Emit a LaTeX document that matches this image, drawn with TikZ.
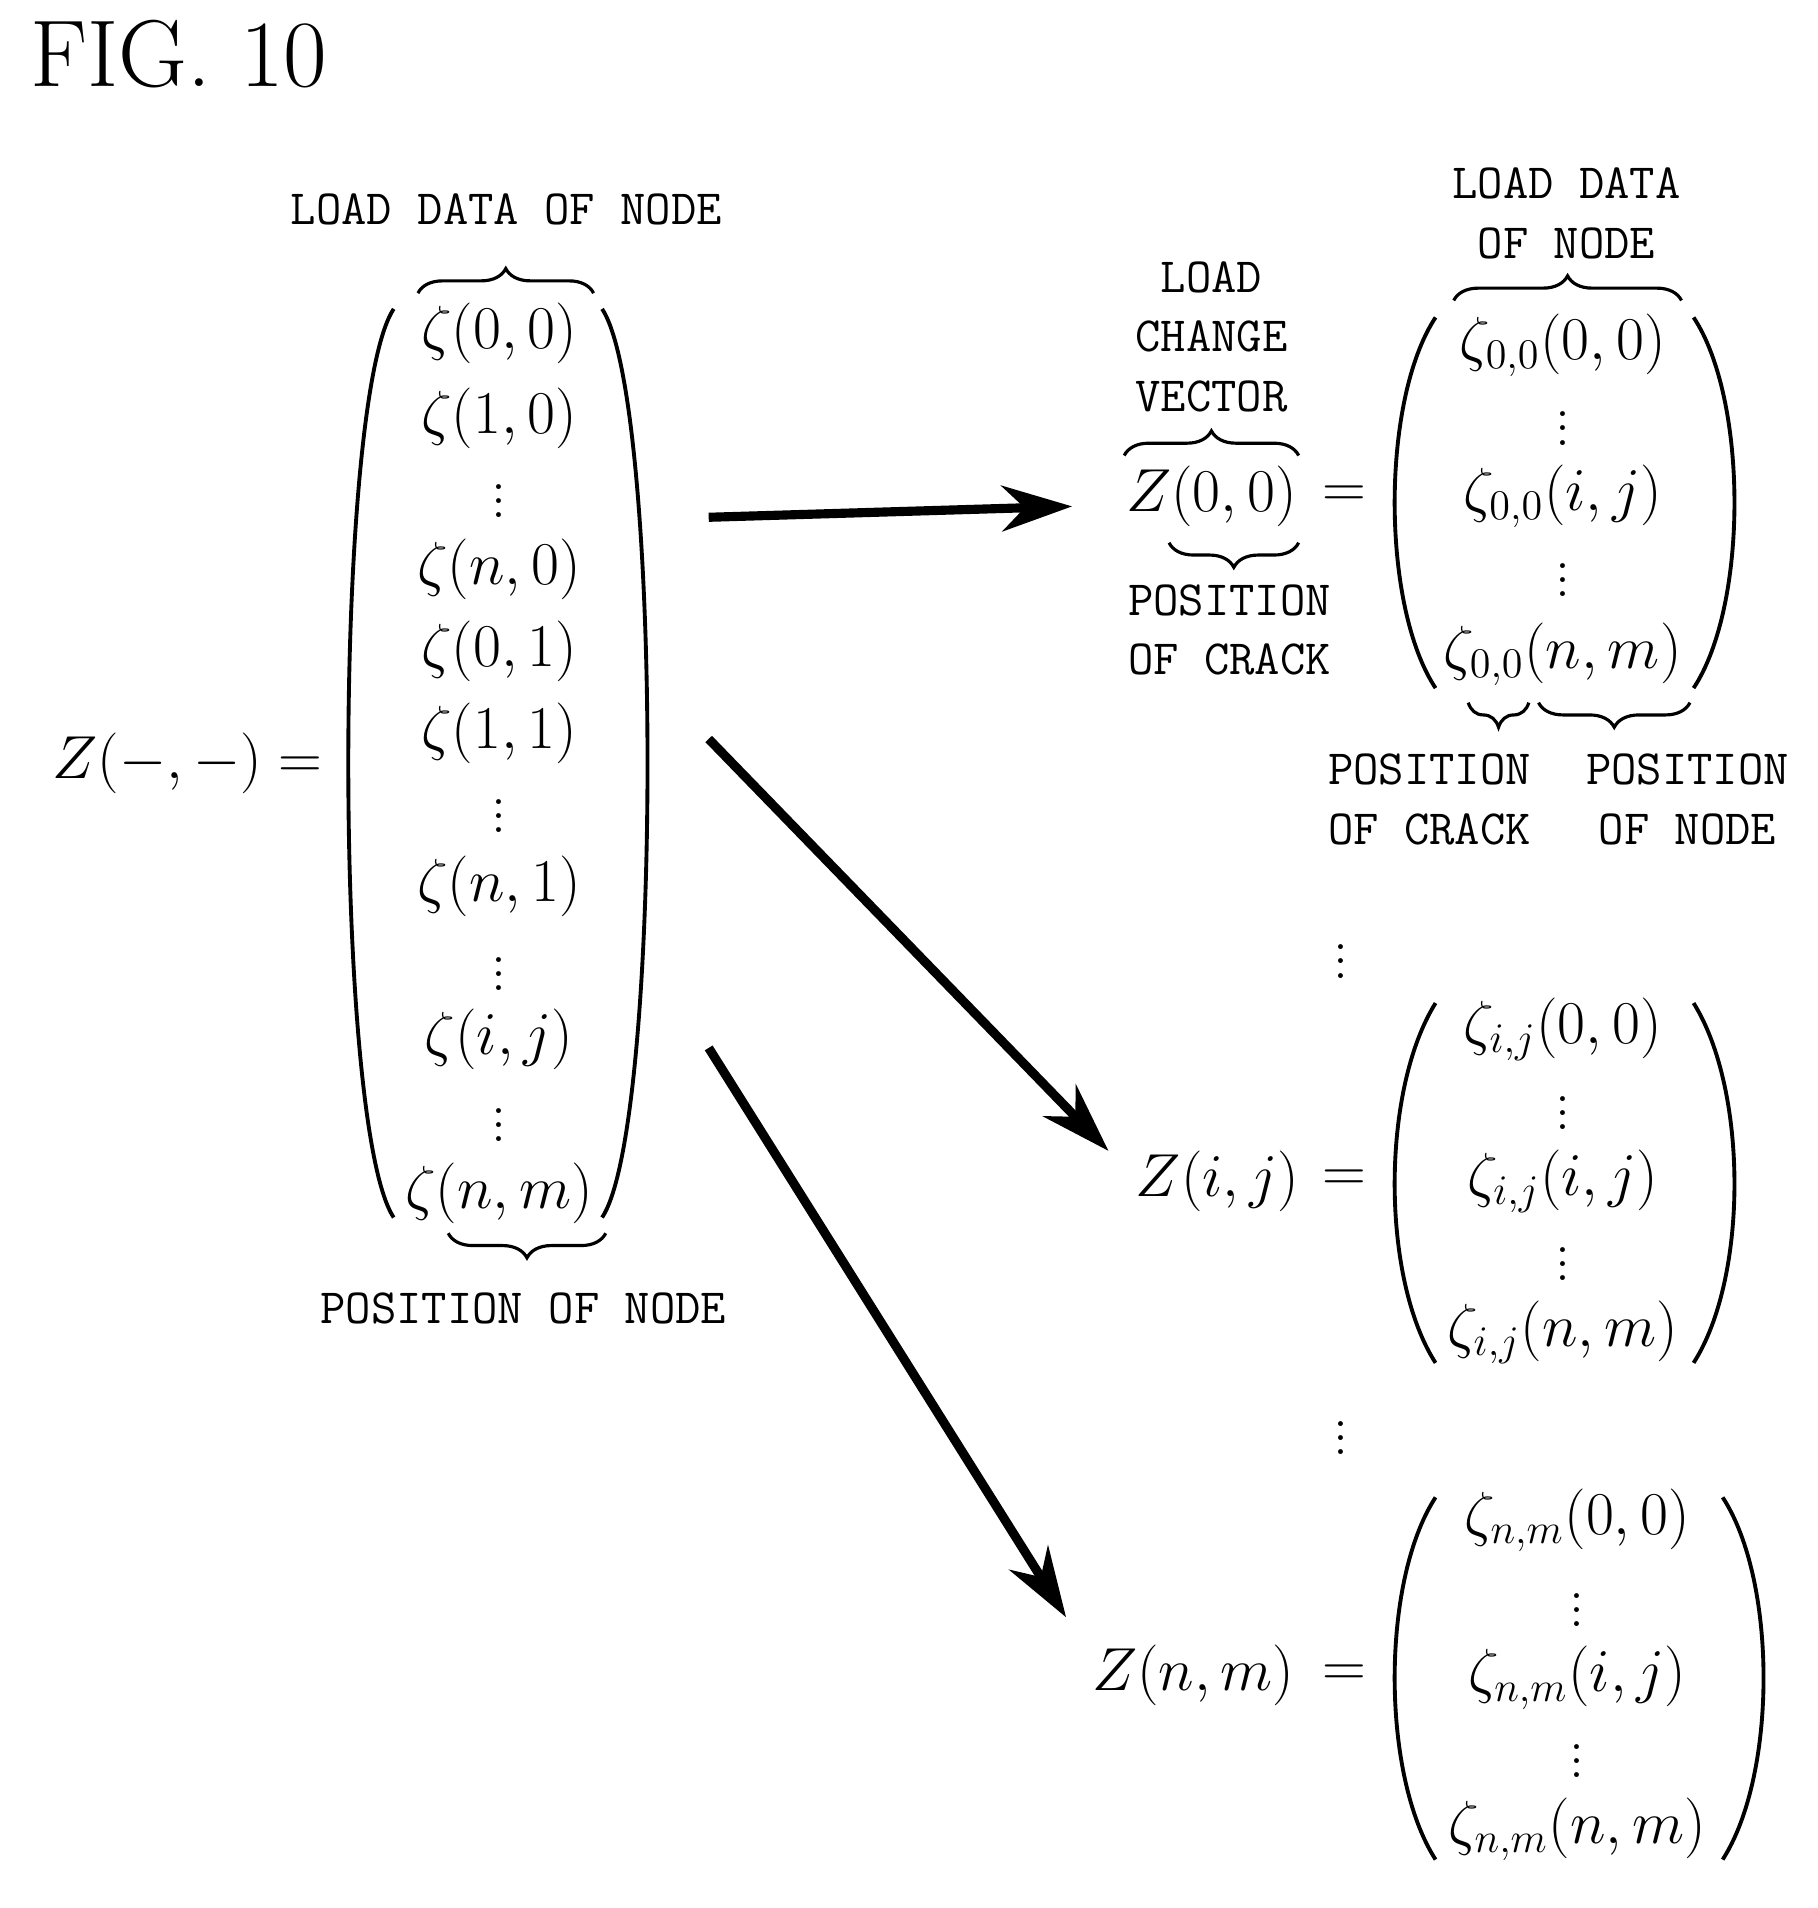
\documentclass[tikz,border=0pt]{standalone}
\usepackage{amsmath}
\usetikzlibrary{positioning,decorations.pathreplacing,arrows.meta}
\begin{document}
\begin{tikzpicture}[x=0.1211mm,y=-0.1211mm,
    ent/.style={font=\fontsize{17}{20}\selectfont,inner sep=1pt},
    lbl/.style={font=\fontsize{14}{17}\ttfamily,align=center,inner sep=1pt},
    lbll/.style={font=\fontsize{14}{17}\ttfamily,align=left,inner sep=1pt},
    brc/.style={decorate,decoration={brace,amplitude=7pt},line width=0.9pt},
    par/.style={line width=1.1pt},
    bigarrow/.style={-{Stealth[length=20pt,width=13pt]},line width=2.6pt}
  ]
  \useasboundingbox (0,0) rectangle (1500,1575);
  \node[anchor=west,font=\fontsize{27}{30}\selectfont] (fig) at (15,45) {FIG. 10};

  % left vector
  \foreach \y/\t/\n in {275/{\zeta(0,0)}/a1, 345/{\zeta(1,0)}/a2, 405/{\vdots}/a3,
      470/{\zeta(n,0)}/a4, 538/{\zeta(0,1)}/a5, 605/{\zeta(1,1)}/a6, 665/{\vdots}/a7,
      732/{\zeta(n,1)}/a8, 795/{\vdots}/a9, 858/{\zeta(i,j)}/a10, 920/{\vdots}/a11,
      985/{\zeta(n,m)}/a12}
    \node[ent] (\n) at (412,\y) {$\t$};
  \draw[par] (325,255) .. controls (275,330) and (275,930) .. (325,1005);
  \draw[par] (497,255) .. controls (547,330) and (547,930) .. (497,1005);
  \node[ent] (zall) at (155,630) {$Z(-,-)=$};
  \draw[brc] (345,242) -- (490,242);
  \node[lbl] (loaddata) at (418,173) {LOAD DATA OF NODE};
  \draw[brc] (500,1018) -- (370,1018);
  \node[lbl] (posnode) at (432,1080) {POSITION OF NODE};

  % Z(0,0)
  \node[ent] (z00) at (1000,410) {$Z(0,0)$};
  \node[ent] (eq1) at (1110,410) {$=$};
  \foreach \y/\t/\n in {285/{\zeta_{0,0}(0,0)}/b1, 345/{\vdots}/b2, 410/{\zeta_{0,0}(i,j)}/b3,
      470/{\vdots}/b4, 540/{\zeta_{0,0}(n,m)}/b5}
    \node[ent] (\n) at (1290,\y) {$\t$};
  \draw[par] (1185,262) .. controls (1140,330) and (1140,500) .. (1185,568);
  \draw[par] (1398,262) .. controls (1443,330) and (1443,500) .. (1398,568);
  \node[lbl] (lcv) at (1000,278) {LOAD\\CHANGE\\VECTOR};
  \draw[brc] (928,376) -- (1072,376);
  \draw[brc] (1072,448) -- (965,448);
  \node[lbll] (poscrack1) at (1015,520) {POSITION\\OF CRACK};
  \node[lbl] (loaddata2) at (1293,176) {LOAD DATA\\OF NODE};
  \draw[brc] (1200,248) -- (1388,248);
  \draw[brc] (1262,580) -- (1212,580);
  \draw[brc] (1395,580) -- (1270,580);
  \node[lbll] (poscrack2) at (1180,660) {POSITION\\OF CRACK};
  \node[lbl] (posnode2) at (1393,660) {POSITION\\OF NODE};

  \node[ent] (dots1) at (1107,785) {$\vdots$};
  \node[ent] (dots2) at (1107,1178) {$\vdots$};

  % Z(i,j)
  \node[ent] (zij) at (1005,975) {$Z(i,j)$};
  \node[ent] (eq2) at (1110,975) {$=$};
  \foreach \y/\t/\n in {850/{\zeta_{i,j}(0,0)}/c1, 910/{\vdots}/c2, 975/{\zeta_{i,j}(i,j)}/c3,
      1035/{\vdots}/c4, 1100/{\zeta_{i,j}(n,m)}/c5}
    \node[ent] (\n) at (1290,\y) {$\t$};
  \draw[par] (1185,828) .. controls (1140,900) and (1140,1055) .. (1185,1125);
  \draw[par] (1398,828) .. controls (1443,900) and (1443,1055) .. (1398,1125);

  % Z(n,m)
  \node[ent] (znm) at (985,1383) {$Z(n,m)$};
  \node[ent] (eq3) at (1110,1383) {$=$};
  \foreach \y/\t/\n in {1255/{\zeta_{n,m}(0,0)}/d1, 1320/{\vdots}/d2, 1385/{\zeta_{n,m}(i,j)}/d3,
      1445/{\vdots}/d4, 1510/{\zeta_{n,m}(n,m)}/d5}
    \node[ent] (\n) at (1302,\y) {$\t$};
  \draw[par] (1185,1236) .. controls (1140,1305) and (1140,1465) .. (1185,1535);
  \draw[par] (1422,1236) .. controls (1467,1305) and (1467,1465) .. (1422,1535);

  % arrows
  \coordinate (s1) at (585,427);
  \coordinate (s2) at (585,610);
  \coordinate (s3) at (585,865);
  \draw[bigarrow] (s1) -- (885,418);
  \draw[bigarrow] (s2) -- (915,950);
  \draw[bigarrow] (s3) -- (880,1335);
\end{tikzpicture}
\end{document}
